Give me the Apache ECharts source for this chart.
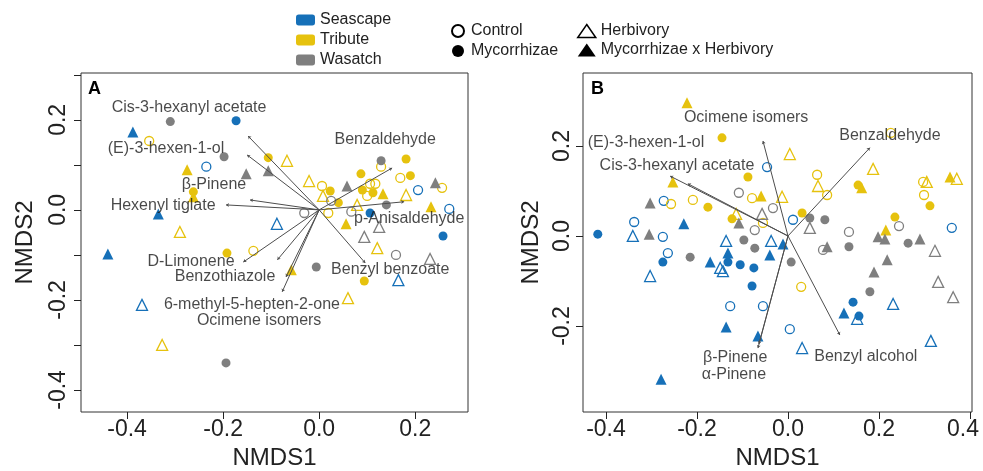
<!DOCTYPE html>
<html lang="en">
<head>
<meta charset="UTF-8">
<title>NMDS</title>
<script src="https://cdn.jsdelivr.net/npm/echarts@6/dist/echarts.min.js"></script>
<style>html,body{margin:0;padding:0;background:#fff;}</style>
</head>
<body>
<div id="main" style="width:983px;height:471px;"></div>
<script>
// treatment codes: C = Control, M = Mycorrhizae, H = Herbivory, MH = Mycorrhizae x Herbivory
var cultivars = ['Seascape', 'Tribute', 'Wasatch'];
var treatments = ['Control', 'Mycorrhizae', 'Herbivory', 'Mycorrhizae x Herbivory'];
var codes = ['C', 'M', 'H', 'MH'];

// panel A points [NMDS1, NMDS2, treatment]
var aSeascape = [
    [-0.388, 0.173, 'MH'], [-0.173, 0.198, 'M'], [-0.235, 0.096, 'C'], [-0.335, -0.009, 'MH'],
    [-0.088, -0.031, 'H'], [0.206, 0.044, 'C'], [0.271, 0.002, 'C'], [0.106, -0.007, 'M'],
    [0.258, -0.058, 'M'], [0.165, -0.156, 'H'], [-0.44, -0.098, 'MH'], [-0.369, -0.211, 'H']
];
var aTribute = [
    [-0.354, 0.153, 'C'], [-0.275, 0.089, 'MH'], [-0.262, 0.040, 'M'], [-0.262, 0.029, 'MH'],
    [-0.106, 0.116, 'M'], [-0.067, 0.109, 'H'], [-0.021, 0.064, 'H'], [0.006, 0.053, 'C'],
    [0.023, 0.042, 'M'], [0.008, 0.031, 'H'], [-0.192, -0.096, 'M'], [-0.137, -0.091, 'C'],
    [-0.058, -0.133, 'MH'], [-0.29, -0.049, 'H'], [0.129, 0.096, 'C'], [0.181, 0.113, 'M'],
    [0.169, 0.071, 'C'], [0.19, 0.076, 'M'], [0.256, 0.049, 'C'], [0.181, 0.033, 'H'],
    [0.233, 0.007, 'MH'], [0.087, 0.08, 'M'], [0.09, 0.044, 'M'], [0.106, 0.058, 'C'],
    [0.117, 0.058, 'C'], [0.112, 0.038, 'M'], [0.1, 0.031, 'C'], [0.133, 0.036, 'MH'],
    [0.04, 0.016, 'M'], [0.019, -0.007, 'C'], [0.079, 0.011, 'H'], [0.056, -0.031, 'MH'],
    [0.121, -0.085, 'H'], [0.094, -0.158, 'M'], [0.06, -0.196, 'H'], [-0.327, -0.3, 'H']
];
var aWasatch = [
    [-0.31, 0.196, 'M'], [-0.198, 0.118, 'M'], [-0.152, 0.08, 'MH'], [-0.106, 0.087, 'MH'],
    [0.025, 0.02, 'C'], [-0.031, -0.007, 'C'], [-0.006, -0.127, 'M'], [0.129, 0.109, 'M'],
    [0.242, 0.06, 'MH'], [0.14, 0.011, 'M'], [0.058, 0.053, 'MH'], [0.067, -0.004, 'C'],
    [0.125, -0.038, 'H'], [0.094, -0.06, 'H'], [0.16, -0.1, 'C'], [0.231, -0.109, 'H'],
    [-0.194, -0.34, 'M']
];

// panel A vectors
var aVectors = ['Cis-3-hexanyl acetate', '(E)-3-hexen-1-ol', 'β-Pinene', 'Hexenyl tiglate', 'D-Limonene',
    'Benzothiazole', '6-methyl-5-hepten-2-one', 'Ocimene isomers', 'Benzyl benzoate', 'Benzaldehyde', 'p-Anisaldehyde'];
var aVecEnd = [[-0.148, 0.164], [-0.15, 0.122], [-0.144, 0.022], [-0.194, 0.011], [-0.158, -0.116],
    [-0.087, -0.111], [-0.069, -0.149], [-0.077, -0.182], [0.096, -0.118], [0.152, 0.093], [0.177, 0.018]];
var aVecLabelAt = [[-0.271, 0.227], [-0.319, 0.136], [-0.219, 0.056], [-0.325, 0.009], [-0.267, -0.116],
    [-0.196, -0.149], [-0.14, -0.211], [-0.125, -0.247], [0.148, -0.133], [0.1375, 0.156], [0.1875, -0.02]];

// panel B points
var bSeascape = [
    [-0.046, 0.153, 'C'], [-0.273, 0.078, 'C'], [-0.338, 0.031, 'C'], [-0.229, 0.027, 'MH'],
    [0.011, 0.036, 'C'], [-0.275, -0.002, 'C'], [-0.136, -0.011, 'H'], [-0.037, -0.011, 'H'],
    [-0.011, -0.018, 'MH'], [-0.132, -0.038, 'MH'], [-0.04, -0.042, 'MH'], [-0.264, -0.038, 'C'],
    [-0.275, -0.058, 'M'], [-0.171, -0.058, 'MH'], [-0.132, -0.058, 'M'], [-0.149, -0.071, 'H'],
    [-0.143, -0.078, 'H'], [-0.105, -0.064, 'M'], [-0.075, -0.071, 'M'], [-0.418, 0.004, 'M'],
    [-0.341, 0.0, 'H'], [-0.303, -0.089, 'H'], [-0.079, -0.111, 'M'], [-0.127, -0.156, 'C'],
    [-0.055, -0.156, 'C'], [-0.136, -0.202, 'MH'], [-0.066, -0.222, 'MH'], [-0.279, -0.318, 'MH'],
    [0.36, 0.018, 'C'], [0.143, -0.147, 'M'], [0.231, -0.151, 'H'], [0.123, -0.171, 'MH'],
    [0.156, -0.178, 'M'], [0.152, -0.184, 'H'], [0.004, -0.207, 'C'], [0.031, -0.249, 'H'],
    [0.314, -0.233, 'H']
];
var bTribute = [
    [-0.222, 0.296, 'MH'], [-0.145, 0.218, 'M'], [-0.253, 0.12, 'MH'], [-0.088, 0.131, 'M'],
    [-0.079, 0.084, 'C'], [-0.059, 0.089, 'MH'], [-0.257, 0.071, 'C'], [-0.209, 0.08, 'C'],
    [-0.176, 0.064, 'M'], [-0.114, 0.049, 'H'], [-0.123, 0.038, 'M'], [-0.055, 0.029, 'C'],
    [-0.013, 0.087, 'H'], [0.064, 0.136, 'C'], [0.066, 0.111, 'H'], [0.086, 0.091, 'C'],
    [0.004, 0.182, 'H'], [0.031, 0.051, 'M'], [0.187, 0.149, 'H'], [0.154, 0.113, 'M'],
    [0.162, 0.107, 'MH'], [0.226, 0.229, 'C'], [0.297, 0.12, 'C'], [0.305, 0.12, 'H'],
    [0.356, 0.131, 'MH'], [0.371, 0.127, 'H'], [0.299, 0.091, 'C'], [0.312, 0.067, 'M'],
    [0.235, 0.042, 'M'], [0.215, 0.013, 'MH'], [0.029, -0.113, 'C']
];
var bWasatch = [
    [-0.108, 0.096, 'C'], [-0.303, 0.073, 'MH'], [-0.108, 0.029, 'MH'], [-0.057, 0.049, 'H'],
    [-0.033, 0.062, 'C'], [0.048, 0.04, 'M'], [0.048, 0.018, 'H'], [0.081, 0.036, 'M'],
    [-0.073, 0.013, 'C'], [-0.097, -0.009, 'M'], [-0.073, -0.027, 'M'], [-0.215, -0.047, 'M'],
    [0.007, -0.058, 'M'], [0.086, -0.024, 'MH'], [0.077, -0.031, 'C'], [-0.305, 0.004, 'MH'],
    [0.134, 0.009, 'C'], [0.244, 0.022, 'C'], [0.198, -0.002, 'MH'], [0.213, -0.007, 'MH'],
    [0.264, -0.016, 'M'], [0.29, -0.007, 'MH'], [0.323, -0.033, 'H'], [0.134, -0.024, 'M'],
    [0.218, -0.053, 'MH'], [0.189, -0.08, 'MH'], [0.33, -0.102, 'H'], [0.363, -0.136, 'H'],
    [0.18, -0.124, 'M']
];

// panel B vectors
var bVectors = ['Ocimene isomers', '(E)-3-hexen-1-ol', 'Cis-3-hexanyl acetate', 'Benzaldehyde',
    'Benzyl alcohol', 'β-Pinene', 'α-Pinene'];
var bVecEnd = [[-0.055, 0.211], [-0.22, 0.116], [-0.259, 0.133], [0.18, 0.196],
    [0.114, -0.22], [-0.066, -0.249], [-0.064, -0.24]];
var bVecLabelAt = [[-0.092, 0.262], [-0.312, 0.207], [-0.244, 0.156], [0.224, 0.222],
    [0.171, -0.267], [-0.116, -0.271], [-0.119, -0.309]];

// axis ticks
var aXTicks = [-0.4, -0.2, 0, 0.2];
var aYTicks = [-0.4, -0.3, -0.2, -0.1, 0, 0.1, 0.2, 0.3];
var aYLabels = [-0.4, -0.2, 0, 0.2];
var bXTicks = [-0.4, -0.2, 0, 0.2, 0.4];
var bYTicks = [-0.2, 0, 0.2];

var colors = ['#1670b8', '#e6c20e', '#7f7f7f'];
var FONT = '"Liberation Sans", Arial, sans-serif';

var chart = echarts.init(document.getElementById('main'));

function makeAxis(grid, min, max, ticks, labels, name, isY, nameGap, labelMargin) {
    return {
        type: 'value', gridIndex: grid, min: min, max: max,
        name: name, nameLocation: 'middle', nameGap: nameGap,
        nameTextStyle: {fontSize: 24, color: '#222', fontFamily: FONT},
        axisLine: {show: false, onZero: false},
        axisTick: {show: true, inside: false, length: 7, customValues: ticks, lineStyle: {color: '#222', width: 1}},
        axisLabel: {
            customValues: labels, margin: labelMargin, fontSize: 23, color: '#222', fontFamily: FONT,
            rotate: isY ? 90 : 0,
            formatter: function (v) {
                var s = Number(v).toFixed(1);
                // keep the last label of the right panel inside the page
                return (!isY && grid === 1 && v > 0.35) ? '{edge|' + s + '}' : s;
            },
            rich: {edge: {fontSize: 23, color: '#222', fontFamily: FONT, padding: [0, 14, 0, 0]}}
        },
        splitLine: {show: false}
    };
}

var series = [];
function addPoints(pts, cIdx, g) {
    codes.forEach(function (code) {
        var open = (code === 'C' || code === 'H');
        var tri = (code === 'H' || code === 'MH');
        series.push({
            type: 'scatter', xAxisIndex: g, yAxisIndex: g,
            symbol: tri ? 'triangle' : 'circle',
            symbolSize: tri ? 11 : 9,
            itemStyle: open
                ? {color: 'rgba(255,255,255,0)', borderColor: colors[cIdx], borderWidth: 1.3, opacity: 1}
                : {color: colors[cIdx], borderWidth: 0, opacity: 1},
            data: pts.filter(function (p) { return p[2] === code; }).map(function (p) { return [p[0], p[1]]; }),
            z: 3, silent: true
        });
    });
}
addPoints(aSeascape, 0, 0); addPoints(aTribute, 1, 0); addPoints(aWasatch, 2, 0);
addPoints(bSeascape, 0, 1); addPoints(bTribute, 1, 1); addPoints(bWasatch, 2, 1);

function addVectors(names, ends, labelAt, g) {
    series.push({
        type: 'lines', coordinateSystem: 'cartesian2d', xAxisIndex: g, yAxisIndex: g,
        symbol: ['none', 'arrow'], symbolSize: 3,
        lineStyle: {color: '#4d4d4d', width: 1, opacity: 1},
        data: ends.map(function (e) { return {coords: [[0, 0], e]}; }),
        z: 4, silent: true
    });
    series.push({
        type: 'scatter', xAxisIndex: g, yAxisIndex: g, symbolSize: 1,
        itemStyle: {color: 'rgba(0,0,0,0)'},
        label: {show: true, position: 'inside', formatter: '{b}', fontSize: 16, color: '#1a1a1a', fontFamily: FONT},
        data: names.map(function (n, i) { return {name: n, value: labelAt[i]}; }),
        z: 5, silent: true
    });
}
addVectors(aVectors, aVecEnd, aVecLabelAt, 0);
addVectors(bVectors, bVecEnd, bVecLabelAt, 1);

// empty series for the legends
cultivars.concat(treatments).forEach(function (n) {
    series.push({type: 'scatter', name: n, data: [], xAxisIndex: 0, yAxisIndex: 0, itemStyle: {opacity: 1}});
});

var legendText = {fontSize: 16, color: '#222', fontFamily: FONT};

chart.setOption({
    animation: false,
    textStyle: {fontFamily: FONT},
    title: [
        {text: 'A', left: 83, top: 75, textStyle: {fontSize: 18, fontWeight: 'bold', color: '#000'}},
        {text: 'B', left: 586, top: 75, textStyle: {fontSize: 18, fontWeight: 'bold', color: '#000'}}
    ],
    legend: [
        {
            orient: 'vertical', left: 291, top: 7, itemWidth: 19, itemHeight: 11, itemGap: 4,
            selectedMode: false, textStyle: legendText,
            data: cultivars.map(function (c, i) { return {name: c, icon: 'roundRect', itemStyle: {color: colors[i], opacity: 1}}; })
        },
        {
            orient: 'vertical', left: 446, top: 18, itemWidth: 16, itemHeight: 12, itemGap: 4,
            selectedMode: false, textStyle: legendText,
            data: [{name: treatments[0], icon: 'circle', itemStyle: {color: '#fff', borderColor: '#000', borderWidth: 2, opacity: 1}},
                {name: treatments[1], icon: 'circle', itemStyle: {color: '#000', opacity: 1}}]
        },
        {
            orient: 'vertical', left: 572, top: 18, itemWidth: 18, itemHeight: 13, itemGap: 3,
            selectedMode: false, textStyle: legendText,
            data: [{name: treatments[2], icon: 'triangle', itemStyle: {color: '#fff', borderColor: '#000', borderWidth: 1.5, opacity: 1}},
                {name: treatments[3], icon: 'triangle', itemStyle: {color: '#000', opacity: 1}}]
        }
    ],
    grid: [
        {left: 81, top: 73, width: 387, height: 339, show: true, borderColor: '#333', borderWidth: 1,
            backgroundColor: 'transparent', containLabel: false, outerBoundsMode: 'none'},
        {left: 583, top: 73, width: 389, height: 339, show: true, borderColor: '#333', borderWidth: 1,
            backgroundColor: 'transparent', containLabel: false, outerBoundsMode: 'none'}
    ],
    xAxis: [
        makeAxis(0, -0.496, 0.31, aXTicks, aXTicks, 'NMDS1', false, 34, 6),
        makeAxis(1, -0.4505, 0.4044, bXTicks, bXTicks, 'NMDS1', false, 34, 6)
    ],
    yAxis: [
        makeAxis(0, -0.449, 0.304, aYTicks, aYLabels, 'NMDS2', true, 44, 11),
        makeAxis(1, -0.391, 0.362, bYTicks, bYTicks, 'NMDS2', true, 40, 9)
    ],
    series: series
});
</script>
</body>
</html>
